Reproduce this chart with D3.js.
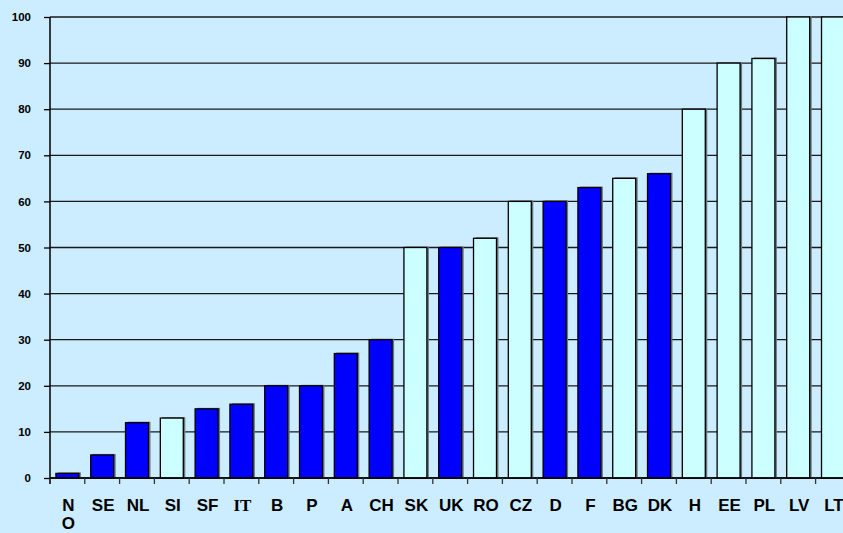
<!DOCTYPE html>
<html>
<head>
<meta charset="utf-8">
<script src="https://cdn.jsdelivr.net/npm/d3@7"></script>
<style>
  html, body { margin: 0; padding: 0; background: #CCECFF; }
  svg { display: block; }
</style>
</head>
<body>
<script>
// ---- data ----
const categories = ["NO","SE","NL","SI","SF","IT","B","P","A","CH","SK","UK","RO","CZ","D","F","BG","DK","H","EE","PL","LV","LT"];
const values     = [1, 5, 12, 13, 15, 16, 20, 20, 27, 30, 50, 50, 52, 60, 60, 63, 65, 66, 80, 90, 91, 100, 100];
const groups     = ["dark","dark","dark","light","dark","dark","dark","dark","dark","dark","light","dark","light","light","dark","dark","light","dark","light","light","light","light","light"];
const tickLabels = [["N","O"],["SE"],["NL"],["SI"],["SF"],["IT"],["B"],["P"],["A"],["CH"],["SK"],["UK"],["RO"],["CZ"],["D"],["F"],["BG"],["DK"],["H"],["EE"],["PL"],["LV"],["LT"]];
const yTicks     = [0,10,20,30,40,50,60,70,80,90,100];

(function () {
const W = 843, H = 533;
const mLeft = 50, mTop = 17, mBottom = 478, step = 34.8;
const mRight = mLeft + step * categories.length;

const svg = d3.select("body").append("svg").attr("width", W).attr("height", H);
svg.append("rect").attr("width", W).attr("height", H).attr("fill", "#CCECFF");

const x = d3.scaleBand().domain(categories).range([mLeft, mRight]).paddingInner(0.34).paddingOuter(0.17);
const xb = d3.scaleLinear().domain([0, categories.length]).range([mLeft, mRight]);
const y = d3.scaleLinear().domain([0, 100]).range([mBottom, mTop]);
const color = d3.scaleOrdinal().domain(["dark","light"]).range(["#0000FF","#CCFFFF"]);

// gridlines
svg.append("g").selectAll("line").data(yTicks).join("line")
  .attr("x1", mLeft).attr("x2", W)
  .attr("y1", d => y(d)).attr("y2", d => y(d))
  .attr("stroke", "#1a1a1a").attr("stroke-width", 1.3);

// y axis
const yAxis = d3.axisLeft(y).tickValues(yTicks).tickSize(6).tickPadding(13);
const gy = svg.append("g").attr("transform", `translate(${mLeft},0)`).call(yAxis);
gy.select(".domain").attr("stroke", "#000").attr("stroke-width", 1.5).attr("d", `M0,${mTop}V${mBottom + 6}`);
gy.selectAll(".tick line").attr("stroke", "#000").attr("stroke-width", 1.3);
gy.selectAll(".tick text")
  .attr("font-family", "Arial, 'Liberation Sans', sans-serif")
  .attr("font-weight", "bold").attr("font-size", 11.5).attr("fill", "#000");

// bars: shadow + bar
const data = categories.map((c, i) => ({ c, v: values[i], g: groups[i], lab: tickLabels[i] }));
svg.append("g").selectAll("rect").data(data).join("rect")
  .attr("x", d => x(d.c) + 2).attr("y", d => y(d.v) - 1)
  .attr("width", x.bandwidth()).attr("height", d => y(0) - y(d.v) + 1)
  .attr("fill", "#66787e");
svg.append("g").selectAll("rect").data(data).join("rect")
  .attr("x", d => x(d.c)).attr("y", d => y(d.v))
  .attr("width", x.bandwidth()).attr("height", d => y(0) - y(d.v))
  .attr("fill", d => color(d.g))
  .attr("stroke", "#000").attr("stroke-width", 1.3);

// x axis line and ticks
svg.append("line").attr("x1", mLeft).attr("x2", W).attr("y1", mBottom).attr("y2", mBottom)
  .attr("stroke", "#000").attr("stroke-width", 1.5);
svg.append("g").selectAll("line").data(d3.range(categories.length + 1)).join("line")
  .attr("x1", i => xb(i)).attr("x2", i => xb(i))
  .attr("y1", mBottom).attr("y2", mBottom + 6)
  .attr("stroke", "#333").attr("stroke-width", 1.3);

// x labels
const lab = svg.append("g").selectAll("text").data(data).join("text")
  .attr("text-anchor", "middle")
  .attr("font-family", d => d.c === "IT" ? "'Times New Roman', 'Liberation Serif', serif" : "Arial, 'Liberation Sans', sans-serif")
  .attr("font-weight", "bold").attr("font-size", 17).attr("fill", "#000");
lab.selectAll("tspan").data(d => d.lab.map(t => ({ t, cx: x(d.c) + x.bandwidth() / 2 + 1 }))).join("tspan")
  .attr("x", t => t.cx)
  .attr("y", (t, i) => 510.5 + i * 18)
  .text(t => t.t);
})();
</script>
</body>
</html>
